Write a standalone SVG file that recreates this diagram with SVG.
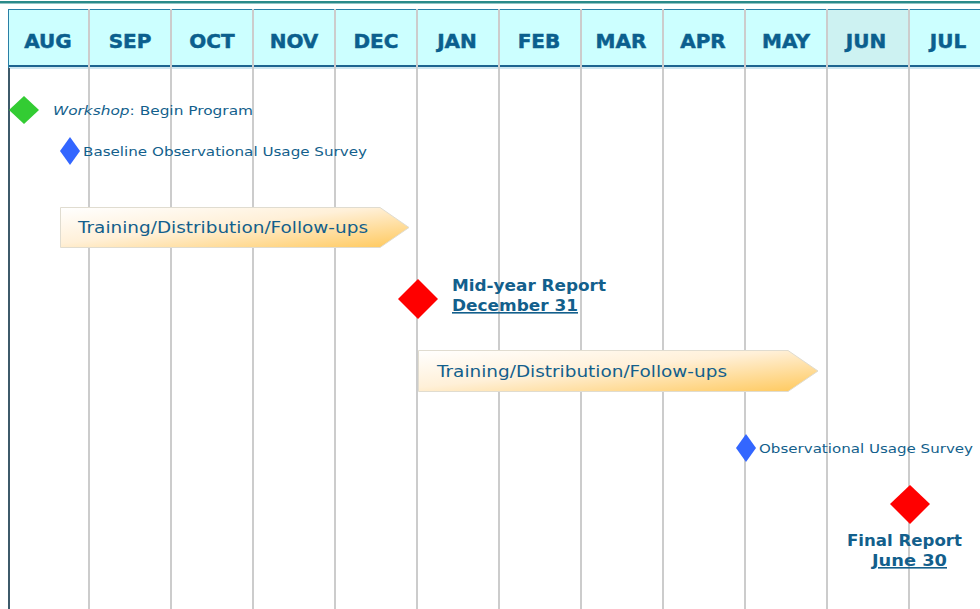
<svg xmlns="http://www.w3.org/2000/svg" width="980" height="609" viewBox="0 0 980 609">
<style>
.mon{font-family:"DejaVu Sans",Verdana,sans-serif;font-weight:bold;font-size:20px;fill:#0b5f8e;stroke:#0b5f8e;stroke-width:0.5;text-anchor:middle}
.lbl{font-family:"DejaVu Sans",Verdana,sans-serif;font-size:13px;fill:#135f8c}
.bar{font-family:"DejaVu Sans",Verdana,sans-serif;font-size:16px;fill:#135f8c}
.rep{font-family:"DejaVu Sans",Verdana,sans-serif;font-size:16px;font-weight:bold;fill:#135f8c}
.grid{stroke:#cccccc;stroke-width:2}
.arrow{fill:url(#g);stroke:#e0dcd0;stroke-width:1}
</style>
<defs>
<linearGradient id="g" x1="0" y1="0" x2="1" y2="1">
<stop offset="0" stop-color="#ffffff"/>
<stop offset="0.45" stop-color="#fff0d8"/>
<stop offset="1" stop-color="#ffc85a"/>
</linearGradient>
</defs>
<rect x="0" y="0" width="980" height="609" fill="#ffffff"/>
<rect x="0" y="1" width="980" height="2.5" fill="#2a8a8a"/>
<g id="header">
<rect x="8" y="9" width="972" height="57" fill="#ccffff"/>
<rect x="827" y="9" width="82" height="57" fill="#cdf2f2"/>
<line x1="8" y1="9.5" x2="980" y2="9.5" stroke="#2a7fa6" stroke-width="1"/>
<line x1="8" y1="66" x2="980" y2="66" stroke="#1d6590" stroke-width="2"/>
<line x1="8" y1="68" x2="980" y2="68" stroke="#9fcfe0" stroke-width="1"/>
</g>
<g id="grid">
<line class="grid" x1="89" y1="9" x2="89" y2="609"/>
<line class="grid" x1="171" y1="9" x2="171" y2="609"/>
<line class="grid" x1="253" y1="9" x2="253" y2="609"/>
<line class="grid" x1="335" y1="9" x2="335" y2="609"/>
<line class="grid" x1="417" y1="9" x2="417" y2="609"/>
<line class="grid" x1="499" y1="9" x2="499" y2="609"/>
<line class="grid" x1="581" y1="9" x2="581" y2="609"/>
<line class="grid" x1="663" y1="9" x2="663" y2="609"/>
<line class="grid" x1="745" y1="9" x2="745" y2="609"/>
<line class="grid" x1="827" y1="9" x2="827" y2="609"/>
<line class="grid" x1="909" y1="9" x2="909" y2="609"/>
<line x1="8.5" y1="9" x2="8.5" y2="609" stroke="#2a7fa6" stroke-width="1"/>
<line x1="9" y1="68" x2="9" y2="609" stroke="#3d5a6a" stroke-width="2"/>
</g>
<g id="months">
<text class="mon" x="48" y="48">AUG</text>
<text class="mon" x="130" y="48">SEP</text>
<text class="mon" x="212" y="48">OCT</text>
<text class="mon" x="294" y="48">NOV</text>
<text class="mon" x="376" y="48">DEC</text>
<text class="mon" x="457" y="48">JAN</text>
<text class="mon" x="539" y="48">FEB</text>
<text class="mon" x="621" y="48">MAR</text>
<text class="mon" x="703" y="48">APR</text>
<text class="mon" x="786" y="48">MAY</text>
<text class="mon" x="866" y="48">JUN</text>
<text class="mon" x="948" y="48">JUL</text>
</g>
<g id="workshop">
<polygon points="24,96 39,110 24,124 9,110" fill="#33cc33"/>
<text class="lbl" x="53" y="115" textLength="200" lengthAdjust="spacingAndGlyphs"><tspan font-style="italic">Workshop</tspan>: Begin Program</text>
</g>
<g id="baseline">
<polygon points="70,137 80,151 70,165 60,151" fill="#3366ff"/>
<text class="lbl" x="83" y="156" textLength="284" lengthAdjust="spacingAndGlyphs">Baseline Observational Usage Survey</text>
</g>
<g id="training1">
<polygon class="arrow" points="60.5,207.5 380,207.5 409,227.5 380,247.5 60.5,247.5"/>
<text class="bar" x="78" y="233" textLength="290" lengthAdjust="spacingAndGlyphs">Training/Distribution/Follow-ups</text>
</g>
<g id="midyear">
<polygon points="418,279 438,299 418,319 398,299" fill="#ff0000"/>
<text class="rep" x="452" y="291" textLength="154" lengthAdjust="spacingAndGlyphs">Mid-year Report</text>
<text class="rep" x="452" y="311" textLength="126" lengthAdjust="spacingAndGlyphs" text-decoration="underline">December 31</text>
</g>
<g id="training2">
<polygon class="arrow" points="418.5,350.5 788,350.5 818,371 788,391.5 418.5,391.5"/>
<text class="bar" x="437" y="377" textLength="290" lengthAdjust="spacingAndGlyphs">Training/Distribution/Follow-ups</text>
</g>
<g id="survey">
<polygon points="746,434 756,448 746,462 736,448" fill="#3366ff"/>
<text class="lbl" x="759" y="453" textLength="214" lengthAdjust="spacingAndGlyphs">Observational Usage Survey</text>
</g>
<g id="final">
<polygon points="910,485 930,504 910,524 890,504" fill="#ff0000"/>
<text class="rep" x="847" y="546" textLength="115" lengthAdjust="spacingAndGlyphs">Final Report</text>
<text class="rep" x="872" y="566" textLength="75" lengthAdjust="spacingAndGlyphs" text-decoration="underline">June 30</text>
</g>
</svg>
